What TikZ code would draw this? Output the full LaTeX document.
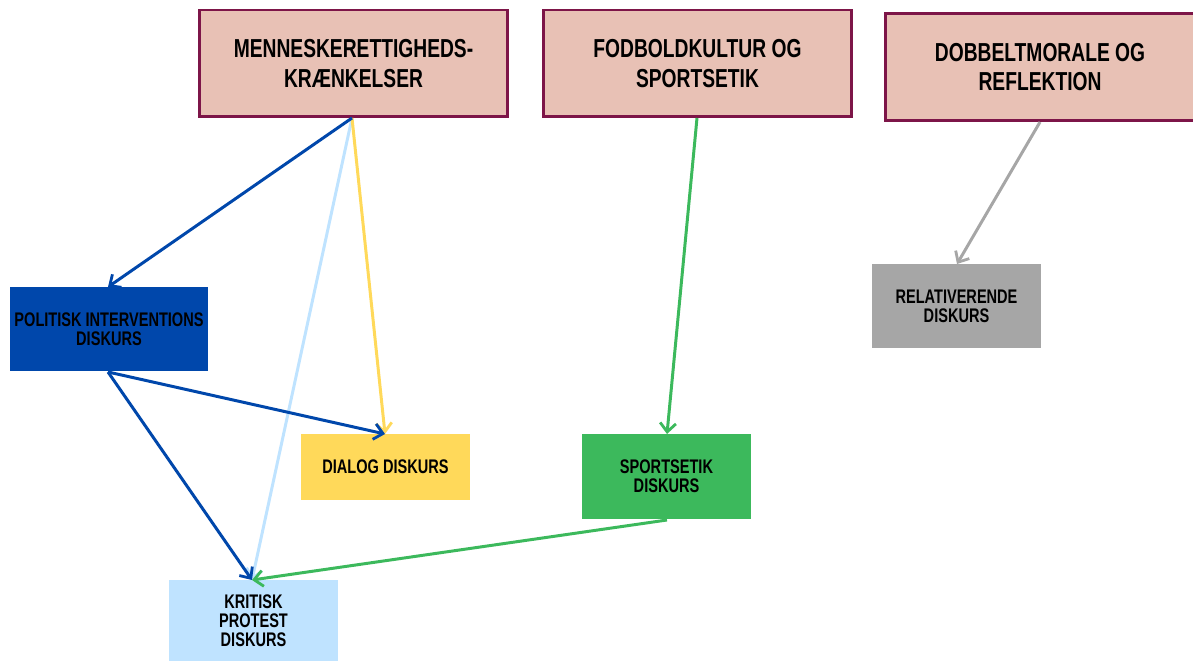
\documentclass[tikz,border=0pt]{standalone}
\usepackage{fontspec}
\setmainfont[FakeStretch=0.74]{Liberation Sans}
\usetikzlibrary{arrows.meta,positioning}
\definecolor{rosa}{HTML}{E8C1B5}
\definecolor{vin}{HTML}{7D1548}
\definecolor{polblaa}{HTML}{0047AB}
\definecolor{lysblaa}{HTML}{BFE3FF}
\definecolor{gul}{HTML}{FFD95A}
\definecolor{groen}{HTML}{3CB95C}
\definecolor{graa}{HTML}{A6A6A6}
\begin{document}
\begin{tikzpicture}[x=0.02cm, y=-0.02cm, font=\bfseries,
  pil/.style={-{Straight Barb[length=5pt,width=9pt,line width=1.6pt]}, line width=1.7pt, shorten >=0pt}]
\tikzstyle{tema}=[draw=vin, fill=rosa, line width=1.7pt, minimum width=6.18cm, minimum height=2.14cm, align=center, font=\fontsize{14.8}{17}\bfseries, inner sep=0pt]
\tikzstyle{diskurs}=[minimum width=3.38cm, minimum height=1.32cm, align=center, font=\fontsize{11.2}{10.8}\bfseries, inner sep=0pt]
\useasboundingbox (0,0) rectangle (1193,661);
\node[tema] (mrk) at (353.5,63.5) {MENNESKERETTIGHEDS-\\KRÆNKELSER};
\node[tema] (fod) at (697.5,63.5) {FODBOLDKULTUR OG\\SPORTSETIK};
\node[tema] (dob) at (1040,67) {DOBBELTMORALE OG\\REFLEKTION};
\node[diskurs, fill=polblaa, minimum width=3.96cm, minimum height=1.68cm] (pol) at (109,329) {POLITISK INTERVENTIONS\\DISKURS};
\node[diskurs, fill=gul] (dia) at (385.5,467) {DIALOG DISKURS};
\node[diskurs, fill=groen, minimum height=1.7cm] (spo) at (666.5,476.5) {SPORTSETIK\\DISKURS};
\node[diskurs, fill=lysblaa, minimum height=1.64cm] (kri) at (253.5,621) {KRITISK\\PROTEST\\DISKURS};
\node[diskurs, fill=graa, minimum height=1.68cm] (rel) at (956.5,306) {RELATIVERENDE\\DISKURS};
\coordinate (mrkud) at (352,118);
\coordinate (polud) at (108,372);
\coordinate (fodud) at (697,118);
\coordinate (spoud) at (667,520);
\coordinate (dobud) at (1040,122);
\coordinate (polind) at (108,287);
\coordinate (diaind) at (385,434);
\coordinate (kriind) at (252,580);
\coordinate (spoind) at (667,434);
\coordinate (relind) at (957,264);
\foreach \i/\j/\c in {mrkud/kriind/lysblaa,mrkud/diaind/gul,mrkud/polind/polblaa,polud/diaind/polblaa,polud/kriind/polblaa,fodud/spoind/groen,spoud/kriind/groen,dobud/relind/graa}{\draw[pil, \c] (\i) -- (\j);}
\end{tikzpicture}
\end{document}
